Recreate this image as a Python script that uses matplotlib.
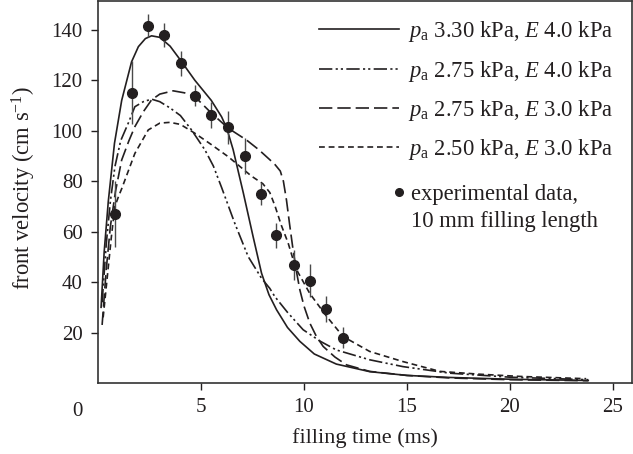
import matplotlib
matplotlib.use("Agg")
import matplotlib.pyplot as plt
from matplotlib.lines import Line2D

plt.rcParams["font.family"] = ["Liberation Serif", "DejaVu Serif"]
plt.rcParams["mathtext.fontset"] = "custom"
plt.rcParams["mathtext.rm"] = "Liberation Serif"
plt.rcParams["mathtext.it"] = "Liberation Serif:italic"

INK = "#231f20"

# model curves (filling time ms, front velocity cm/s)
solid_x = [0.15, 0.3, 0.5, 0.8, 1.15, 1.63, 1.96, 2.3, 2.6, 3.0, 3.5, 4.0, 4.7, 5.5,
           6.0, 6.25, 6.56, 7.05, 7.53, 7.94, 8.3, 8.67, 9.2, 9.8, 10.5, 11.57, 13.19,
           15.0, 17.07, 20.0, 23.8]
solid_y = [30, 52, 72, 95, 112, 127.3, 133.3, 136.5, 137.6, 137.0, 133.5, 128, 120, 112,
           105.5, 101, 92.5, 75.5, 58, 43.5, 35, 29, 22, 16.5, 11.5, 7.5, 4.5,
           3.0, 2.2, 1.5, 1.0]

ddot_x = [0.2, 0.4, 0.6, 0.82, 1.1, 1.47, 1.79, 2.2, 2.6, 3.0, 3.5, 4.0, 4.54, 5.19,
          5.6, 6.0, 6.64, 7.29, 7.94, 8.34, 8.58, 9.2, 9.96, 10.8, 11.57, 13.19, 14.8,
          17.07, 20.0, 23.8]
ddot_y = [32, 55, 72, 85.7, 96, 103, 109.5, 111.5, 112.5, 111.5, 109, 106, 100.3, 92.4,
          86, 77.5, 63.3, 50.1, 41.5, 37.5, 34.3, 28, 21.1, 16.5, 13.1, 9.2, 6.5,
          3.9, 2.3, 1.3]

ldash_x = [0.2, 0.4, 0.6, 0.85, 1.15, 1.5, 1.79, 2.2, 2.6, 3.0, 3.65, 4.2, 4.7, 5.5,
           6.32, 7.21, 7.8, 8.34, 8.6, 8.85, 9.0, 9.15, 9.3, 9.47, 9.65, 9.8, 10.0,
           10.28, 10.6, 10.93, 11.5, 12.06, 13.19, 15.0, 17.07, 20.0, 23.8]
ldash_y = [23, 45, 62, 76, 88.4, 96, 101.6, 107.5, 112.2, 114.5, 115.8, 115, 113.5, 107,
           101, 96.3, 92.5, 88.5, 86.5, 84, 80, 72.5, 63, 52.8, 43.5, 36.9, 30.5,
           23.8, 18.5, 14.5, 10.3, 7.2, 4.6, 3.0, 2.0, 1.3, 0.9]

sdash_x = [0.25, 0.45, 0.65, 0.82, 1.0, 1.15, 1.31, 1.79, 2.44, 3.0, 3.49, 4.0, 4.7,
           5.5, 6.32, 7.45, 8.0, 8.34, 8.6, 8.9, 9.23, 9.47, 9.7, 10.28, 11.09, 11.9,
           13.19, 14.8, 16.6, 18.5, 20.5, 23.7]
sdash_y = [26, 42, 58, 70, 74, 77, 80.5, 91, 100.3, 103, 103.3, 102.5, 99,
           94.5, 89.7, 82, 79, 75.5, 70, 62.5, 55.5, 49, 44, 35.5, 26.5, 18.4,
           12.5, 8.5, 4.6, 3.5, 2.6, 1.7]

# experimental data, 10 mm filling length
exp_x = [0.82, 1.63, 2.44, 3.22, 4.02, 4.70, 5.51, 6.29, 7.13, 7.89, 8.64, 9.51,
         10.28, 11.09, 11.87]
exp_y = [67, 115, 141.6, 137.9, 126.7, 113.9, 106.2, 101.3, 90.0, 74.8, 58.5, 46.8,
         40.6, 29.3, 18.0]
exp_err = [13, 12.5, 4.5, 4.8, 5, 4.3, 5, 6.6, 7, 4.3, 5, 6, 6.5, 5, 4]

labels = [r"$p_\mathrm{a}$ 3.30 kPa, $E$ 4.0 kPa",
          r"$p_\mathrm{a}$ 2.75 kPa, $E$ 4.0 kPa",
          r"$p_\mathrm{a}$ 2.75 kPa, $E$ 3.0 kPa",
          r"$p_\mathrm{a}$ 2.50 kPa, $E$ 3.0 kPa"]
exp_label = ["experimental data,", "10 mm filling length"]

fig = plt.figure(figsize=(6.33, 4.54), dpi=100)
ax = fig.add_axes([98 / 633, 1 - 383 / 454, 533.5 / 633, 382 / 454])

styles = ["-", (0, (8, 2, 1.3, 1.8, 1.3, 2)), (0, (8, 3)), (0, (3.5, 2.3))]
curves = [(solid_x, solid_y), (ddot_x, ddot_y), (ldash_x, ldash_y), (sdash_x, sdash_y)]
for (cx, cy), ls in zip(curves, styles):
    ax.plot(cx, cy, color=INK, lw=1.2, linestyle=ls)

ax.errorbar(exp_x, exp_y, yerr=exp_err, fmt="o", color=INK, ecolor="#4a4a4a",
            elinewidth=1.0, capsize=0, markersize=7, zorder=5)

ax.set_xlim(0, 25.9)
ax.set_ylim(0, 151.4)
ax.set_xticks([5, 10, 15, 20, 25])
ax.set_yticks([20, 40, 60, 80, 100, 120, 140])
ax.tick_params(direction="out", length=5, width=1.0, labelsize=15, pad=6,
               top=False, right=False, colors=INK)
for s in ax.spines.values():
    s.set_linewidth(1.2)
    s.set_color("#333333")
ax.annotate("0", xy=(0, 0), xycoords="data", xytext=(-21, -28),
            textcoords="offset pixels", ha="center", va="center",
            fontsize=15, color=INK, annotation_clip=False)

ax.set_xlabel("filling time (ms)", fontsize=16, color=INK, labelpad=8)
ax.set_ylabel(r"front velocity (cm s$^{-1}$)", fontsize=16.3, color=INK)
ax.yaxis.set_label_coords(-0.112, 0.51)

handles = [Line2D([], [], color=INK, lw=1.2, linestyle=ls) for ls in styles]
leg1 = ax.legend(handles, labels, loc="upper left", bbox_to_anchor=(0.414, 0.952),
                 frameon=False, fontsize=16.3, handlelength=3.56, handletextpad=0.36,
                 labelspacing=0.63, borderpad=0, borderaxespad=0)
for t in leg1.get_texts():
    t.set_color(INK)
ax.add_artist(leg1)

exp_handle = Line2D([], [], color=INK, marker="o", linestyle="none", markersize=5.5)
leg2 = ax.legend([exp_handle], [exp_label[0]], loc="upper left",
                 bbox_to_anchor=(0.5535, 0.52), frameon=False, fontsize=16.3,
                 handlelength=0.5, handletextpad=0.3,
                 borderpad=0, borderaxespad=0)
first = leg2.get_texts()[0]
first.set_color(INK)
ax.annotate(exp_label[1], xy=(0, 0), xycoords=first, xytext=(0, -27),
            textcoords="offset pixels", ha="left", va="bottom",
            fontsize=16.3, color=INK, zorder=10, annotation_clip=False)

fig.savefig("out.png", dpi=100)
